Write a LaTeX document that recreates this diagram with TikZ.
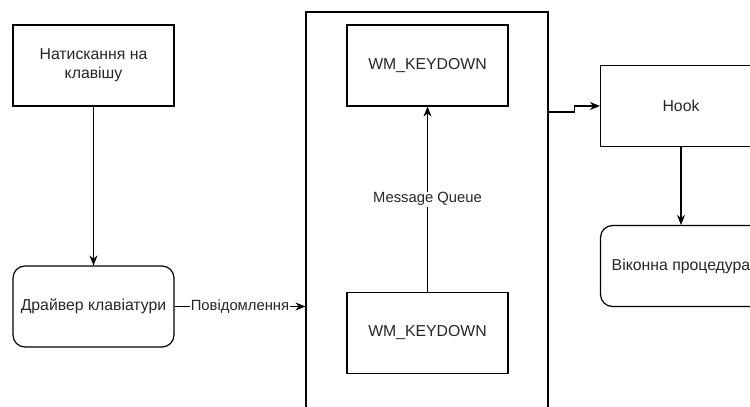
\documentclass[tikz,border=0pt]{standalone}
\usepackage{fontspec}
\setmainfont{Liberation Sans}
\usetikzlibrary{arrows.meta,positioning}
\tikzset{
  box/.style={draw, line width=1.2pt, minimum width=161pt, minimum height=81pt,
    align=center, inner sep=2pt, text=black!85, font=\fontsize{15.8}{19}\selectfont},
  roundbox/.style={box, rounded corners=12pt},
  link/.style={line width=1.2pt, -{Stealth[length=10pt,width=8pt]}},
  tag/.style={fill=white, inner sep=1pt, text=black!85, font=\fontsize{14.8}{16}\selectfont}
}
\begin{document}
\begin{tikzpicture}[x=1pt,y=-1pt]
   \useasboundingbox (0,0) rectangle (750,407);
   \clip (0,0) rectangle (750,407);

   \node[box]      (press)   at (93.5,65.5)  {Натискання на\\клавішу};
   \node[roundbox] (driver)  at (93.5,306.5) {Драйвер клавіатури};
   \node[draw, line width=1.2pt, minimum width=242pt, minimum height=420pt]
                   (queue)   at (427,222)    {};
   \node[box]      (keytop)  at (427.5,65.5) {WM\_KEYDOWN};
   \node[box]      (keybot)  at (427.5,333)  {WM\_KEYDOWN};
   \node[box]      (hook)    at (681,106)    {Hook};
   \node[roundbox] (winproc) at (681,266)    {Віконна процедура};
   \coordinate (qout) at (queue.east |- 0,112);

   \draw[link] (press)  -- (driver);
   \draw[link] (driver) -- node[tag] {Повідомлення} (driver -| queue.west);
   \draw[link] (keybot) -- node[tag] {Message Queue} (keytop);
   \draw[link] (qout)   -- ++(26,0) |- (hook);
   \draw[link] (hook)   -- (winproc);
\end{tikzpicture}
\end{document}
